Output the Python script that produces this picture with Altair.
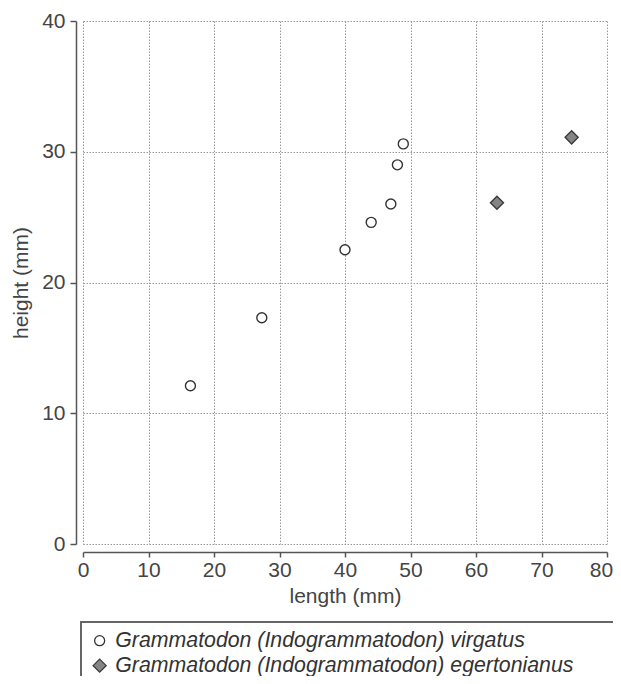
import altair as alt
import pandas as pd

species = ["Grammatodon (Indogrammatodon) virgatus"] * 7 + ["Grammatodon (Indogrammatodon) egertonianus"] * 2
length_mm = [16.4, 27.3, 40.0, 44.0, 47.0, 48.0, 48.9, 63.2, 74.6]
height_mm = [12.1, 17.3, 22.5, 24.6, 26.0, 29.0, 30.6, 26.1, 31.1]

categories = ["Grammatodon (Indogrammatodon) virgatus", "Grammatodon (Indogrammatodon) egertonianus"]
x_ticks = [0, 10, 20, 30, 40, 50, 60, 70, 80]
y_ticks = [0, 10, 20, 30, 40]

df = pd.DataFrame({"species": species, "length": length_mm, "height": height_mm})

FONT = "Liberation Sans"
leg = alt.Legend(title=None, orient="none", legendX=-2, legendY=601, direction="vertical")

points = alt.Chart(df).mark_point(filled=True, strokeWidth=1.4, opacity=1).encode(
    x=alt.X("length:Q", title="length (mm)",
            scale=alt.Scale(domain=[0, 80], nice=False, zero=True),
            axis=alt.Axis(values=x_ticks, offset=8, tickSize=5, labelPadding=2, titlePadding=5,
                          labelFlush=False,
                          labelOffset={"condition": {"test": "datum.value == 80", "value": -6}, "value": 0})),
    y=alt.Y("height:Q", title="height (mm)",
            scale=alt.Scale(domain=[0, 40], nice=False),
            axis=alt.Axis(values=y_ticks, offset=7, tickSize=6, labelPadding=5, titlePadding=10,
                          labelFlush=False)),
    fill=alt.Fill("species:N", scale=alt.Scale(domain=categories, range=["#ffffff", "#858585"]),
                  legend=leg),
    stroke=alt.Stroke("species:N", scale=alt.Scale(domain=categories, range=["#333333", "#3a3a3a"]),
                      legend=leg),
    shape=alt.Shape("species:N", scale=alt.Scale(domain=categories, range=["circle", "diamond"]),
                    legend=leg),
    size=alt.Size("species:N", scale=alt.Scale(domain=categories, range=[100, 170]),
                  legend=leg),
)

frame = alt.Chart(df).mark_rect(fill=None, stroke="#666666", strokeWidth=1.2).encode(
    x=alt.value(-2), x2=alt.value(640), y=alt.value(601), y2=alt.value(720)
)

chart = alt.layer(frame, points).properties(
    width=524, height=523,
    autosize=alt.AutoSizeParams(type="none"),
    padding={"left": 75, "top": 13, "right": 6, "bottom": 132},
).configure_view(
    stroke=None
).configure_axis(
    grid=True, gridColor="#9a9a9a", gridDash=[1.5, 1.5], gridWidth=1,
    domainColor="#555555", domainWidth=1.5, tickColor="#555555", tickWidth=1.5,
    labelFont=FONT, labelFontSize=21, labelColor="#444444",
    titleFont=FONT, titleFontSize=21, titleColor="#444444", titleFontWeight="normal",
).configure_legend(
    labelFont=FONT, labelFontSize=21.3, labelFontStyle="italic", labelColor="#333333",
    labelLimit=0, padding=8, rowPadding=3, labelOffset=5,
    symbolStrokeWidth=1.3,
)

chart.save("out.html", embed_options={"renderer": "svg", "actions": False})
